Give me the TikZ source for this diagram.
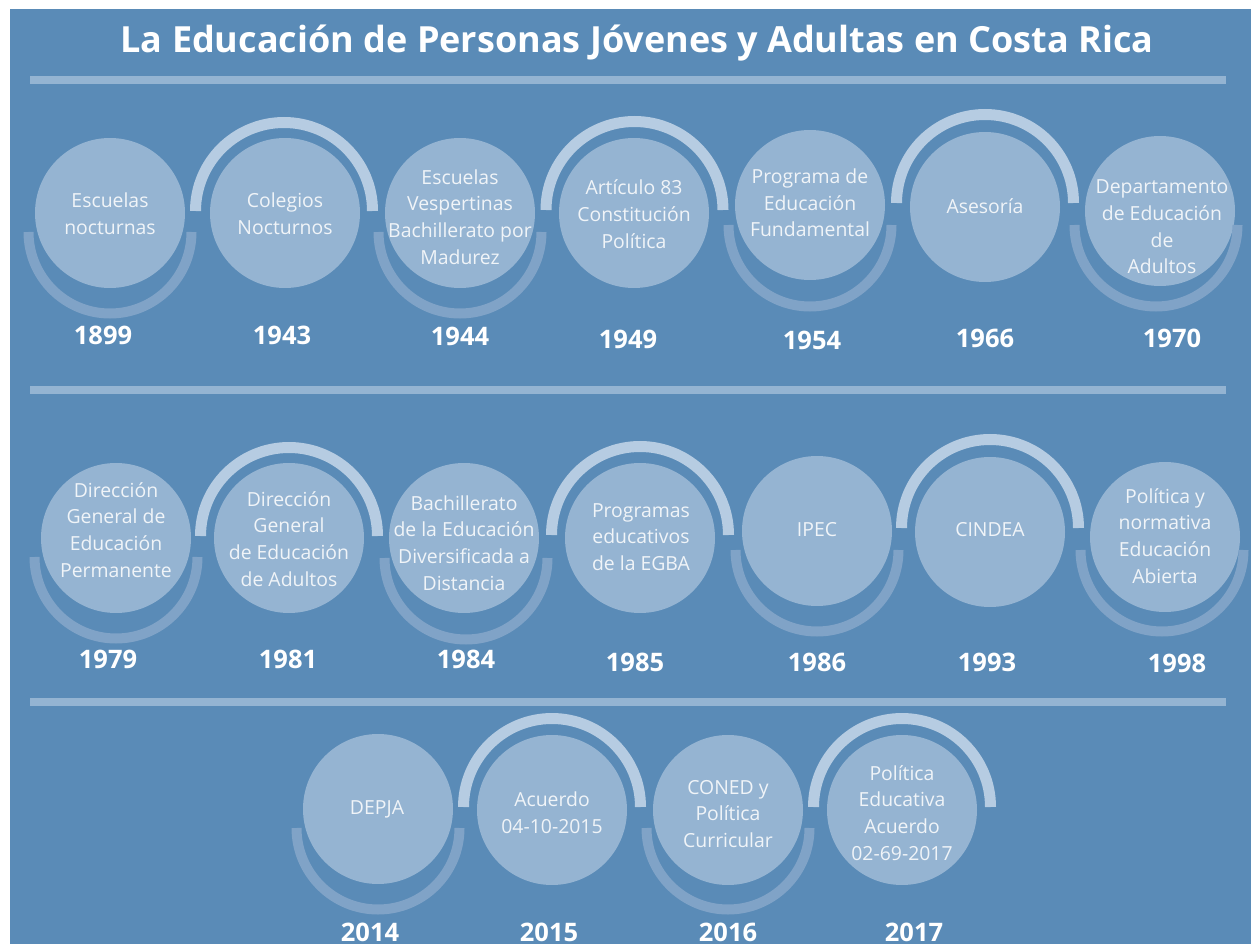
\documentclass[tikz,border=0pt]{standalone}
\usepackage{fontspec}
\setmainfont{Open Sans}
\definecolor{bgblue}{RGB}{90,139,183}
\definecolor{circfill}{RGB}{149,180,210}
\definecolor{topcol}{RGB}{182,204,226}
\definecolor{botcol}{RGB}{128,163,199}
\definecolor{barcol}{RGB}{148,180,210}
\definecolor{lbltext}{RGB}{240,244,248}
\begin{document}
\begin{tikzpicture}[x=1pt,y=-1pt,
  circ/.style={circle,fill=circfill,minimum size=150pt,inner sep=0pt},
  toparc/.style={draw=topcol,line width=11pt},
  botarc/.style={draw=botcol,line width=10pt},
  lbl/.style={font=\fontsize{19.4}{26.7}\selectfont,text=lbltext,align=center,inner sep=0pt},
  yr/.style={font=\bfseries\fontsize{25.5}{30}\selectfont,text=white,inner sep=0pt},
  ttl/.style={font=\bfseries\fontsize{36}{40}\selectfont,text=white,inner sep=0pt,anchor=base},
  hbar/.style={fill=barcol}]
\useasboundingbox (0,0) rectangle (1251,944);
\fill[white] (0,0) rectangle (1251,944);
\fill[bgblue] (10,9) rectangle (1251,944);
\node[ttl] (title) at (637,53) {La Educación de Personas Jóvenes y Adultas en Costa Rica};
\fill[hbar] (30,76) rectangle (1226,84);
\fill[hbar] (30,386) rectangle (1226,394);
\fill[hbar] (30,698) rectangle (1226,706);

% row 1
\node[circ] (c1) at (110,213) {};
\node[circ] (c2) at (285,213) {};
\node[circ] (c3) at (460,213) {};
\node[circ] (c4) at (634,213) {};
\node[circ] (c5) at (810,205) {};
\node[circ] (c6) at (985,207) {};
\node[circ] (c7) at (1160,211) {};
\draw[botarc] (c1.center) ++(-81.5,19) arc[start angle=180,end angle=0,radius=81.5];
\draw[toparc] (c2.center) ++(-89.5,-2) arc[start angle=180,end angle=360,radius=88.5];
\draw[botarc] (c3.center) ++(-81.5,19) arc[start angle=180,end angle=0,radius=81.5];
\draw[toparc] (c4.center) ++(-88,-3) arc[start angle=180,end angle=360,radius=88.5];
\draw[botarc] (c5.center) ++(-81.5,20) arc[start angle=180,end angle=0,radius=81.5];
\draw[toparc] (c6.center) ++(-88.5,-4) arc[start angle=180,end angle=360,radius=88.5];
\draw[botarc] (c7.center) ++(-85.5,14) arc[start angle=180,end angle=0,radius=81.5];
\node[lbl] (l1) at (110,214) {Escuelas\\nocturnas};
\node[lbl] (l2) at (285,214) {Colegios\\Nocturnos};
\node[lbl] (l3) at (460,217) {Escuelas\\Vespertinas\\Bachillerato por\\Madurez};
\node[lbl] (l4) at (634,214) {Artículo 83\\Constitución\\Política};
\node[lbl] (l5) at (810,203) {Programa de\\Educación\\Fundamental};
\node[lbl] (l6) at (985,206) {Asesoría};
\node[lbl] (l7) at (1162,227) {Departamento\\de Educación\\de\\Adultos};
\node[yr] (y1) at (103,335) {1899};
\node[yr] (y2) at (282,335) {1943};
\node[yr] (y3) at (460,336) {1944};
\node[yr] (y4) at (628,339) {1949};
\node[yr] (y5) at (812,340) {1954};
\node[yr] (y6) at (985,338) {1966};
\node[yr] (y7) at (1172,338) {1970};

% row 2
\node[circ] (c8) at (116,538) {};
\node[circ] (c9) at (289,538) {};
\node[circ] (c10) at (464,538) {};
\node[circ] (c11) at (640,538) {};
\node[circ] (c12) at (817,531) {};
\node[circ] (c13) at (990,532) {};
\node[circ] (c14) at (1165,537) {};
\draw[botarc] (c8.center) ++(-81.5,19) arc[start angle=180,end angle=0,radius=81.5];
\draw[toparc] (c9.center) ++(-88.5,-2) arc[start angle=180,end angle=360,radius=88.5];
\draw[botarc] (c10.center) ++(-79.5,20) arc[start angle=180,end angle=0,radius=81.5];
\draw[toparc] (c11.center) ++(-88.5,-3) arc[start angle=180,end angle=360,radius=88.5];
\draw[botarc] (c12.center) ++(-81.5,19) arc[start angle=180,end angle=0,radius=81.5];
\draw[toparc] (c13.center) ++(-88.5,-4) arc[start angle=180,end angle=360,radius=88.5];
\draw[botarc] (c14.center) ++(-84.5,13) arc[start angle=180,end angle=0,radius=81.5];
\node[lbl] (l8) at (116,530) {Dirección\\General de\\Educación\\Permanente};
\node[lbl] (l9) at (289,539) {Dirección\\General\\de Educación\\de Adultos};
\node[lbl] (l10) at (464,543) {Bachillerato\\de la Educación\\Diversificada a\\Distancia};
\node[lbl] (l11) at (641,537) {Programas\\educativos\\de la EGBA};
\node[lbl] (l12) at (817,530) {IPEC};
\node[lbl] (l13) at (990,530) {CINDEA};
\node[lbl] (l14) at (1165,536) {Política y\\normativa\\Educación\\Abierta};
\node[yr] (y8) at (108,659) {1979};
\node[yr] (y9) at (288,659) {1981};
\node[yr] (y10) at (466,659) {1984};
\node[yr] (y11) at (635,662) {1985};
\node[yr] (y12) at (817,662) {1986};
\node[yr] (y13) at (987,662) {1993};
\node[yr] (y14) at (1177,663) {1998};

% row 3
\node[circ] (c15) at (378,809) {};
\node[circ] (c16) at (552,810) {};
\node[circ] (c17) at (728,810) {};
\node[circ] (c18) at (902,810) {};
\draw[botarc] (c15.center) ++(-81.5,19) arc[start angle=180,end angle=0,radius=81.5];
\draw[toparc] (c16.center) ++(-88.5,-3) arc[start angle=180,end angle=360,radius=88.5];
\draw[botarc] (c17.center) ++(-81.5,18) arc[start angle=180,end angle=0,radius=81.5];
\draw[toparc] (c18.center) ++(-88.5,-3) arc[start angle=180,end angle=360,radius=88.5];
\node[lbl] (l15) at (377,809) {DEPJA};
\node[lbl] (l16) at (552,813) {Acuerdo\\04-10-2015};
\node[lbl] (l17) at (728,814) {CONED y\\Política\\Curricular};
\node[lbl] (l18) at (902,813) {Política\\Educativa\\Acuerdo\\02-69-2017};
\node[yr] (y15) at (370,932) {2014};
\node[yr] (y16) at (549,932) {2015};
\node[yr] (y17) at (728,932) {2016};
\node[yr] (y18) at (914,932) {2017};
\end{tikzpicture}
\end{document}
